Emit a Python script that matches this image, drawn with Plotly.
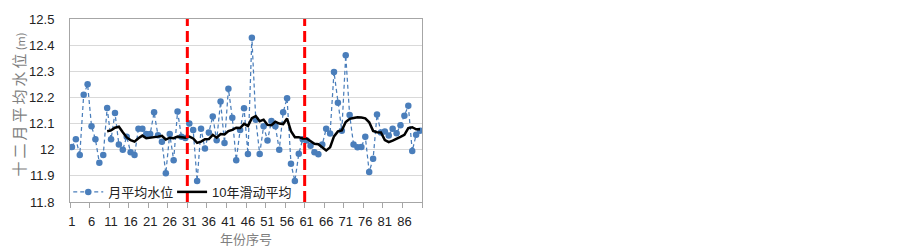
import plotly.graph_objects as go

# ---------------- data ----------------
years = list(range(1, 91))
monthly_level = [
    12.01, 12.04, 11.98, 12.21, 12.25, 12.09, 12.04, 11.95, 11.98, 12.16,
    12.04, 12.14, 12.02, 12.00, 12.05, 11.99, 11.98, 12.08, 12.08, 12.06,
    12.06, 12.143, 12.055, 12.03, 11.91, 12.06, 11.96, 12.146, 12.05, 12.045,
    12.10, 12.075, 11.88, 12.08, 12.005, 12.066, 12.127, 12.036, 12.184, 12.026,
    12.233, 12.122, 11.96, 12.075, 12.159, 11.984, 12.428, 12.115, 11.984, 12.09,
    12.035, 12.11, 12.09, 12.00, 12.143, 12.197, 11.946, 11.88, 11.985, 12.04,
    12.035, 12.015, 11.99, 11.983, 12.02, 12.08, 12.062, 12.297, 12.18, 12.073,
    12.361, 12.133, 12.02, 12.009, 12.01, 12.05, 11.915, 11.965, 12.135, 12.066,
    12.07, 12.054, 12.08, 12.063, 12.094, 12.13, 12.168, 11.995, 12.057, 12.073,
]
ma_years = list(range(10, 91))
moving_avg_10 = [
    12.071, 12.074, 12.084, 12.088, 12.067, 12.047, 12.037, 12.031, 12.044, 12.054,
    12.044, 12.046, 12.046, 12.050, 12.053, 12.039, 12.046, 12.044, 12.050, 12.047,
    12.046, 12.050, 12.043, 12.026, 12.031, 12.040, 12.041, 12.057, 12.046, 12.060,
    12.058, 12.071, 12.076, 12.084, 12.083, 12.099, 12.091, 12.121, 12.129, 12.109,
    12.115, 12.095, 12.094, 12.107, 12.100, 12.098, 12.119, 12.071, 12.048, 12.048,
    12.043, 12.043, 12.033, 12.023, 12.021, 12.009, 11.997, 12.009, 12.051, 12.070,
    12.074, 12.106, 12.118, 12.121, 12.124, 12.123, 12.120, 12.105, 12.072, 12.067,
    12.066, 12.037, 12.029, 12.035, 12.041, 12.049, 12.057, 12.083, 12.086, 12.078,
    12.078,
]
change_years = [31, 61]
x_tick_vals = list(range(1, 90, 5))
x_tick_text = [str(v) for v in x_tick_vals]
y_tick_vals = [11.8, 11.9, 12.0, 12.1, 12.2, 12.3, 12.4, 12.5]
y_tick_text = ["11.8", "11.9", "12", "12.1", "12.2", "12.3", "12.4", "12.5"]

series_names = ["月平均水位", "10年滑动平均"]
y_title = "\u2009".join("十二月平均水位") + " <span style='font-size:11px'>(m)</span>"
x_title = "年份序号"

FONT = "Liberation Sans, Arial, Noto Sans CJK SC, sans-serif"
BLUE = "#4a7ebb"

fig = go.Figure()
fig.add_trace(go.Scatter(
    x=years, y=monthly_level, name=series_names[0], mode="lines+markers",
    line=dict(color=BLUE, width=1.25, dash="4px,3px"),
    marker=dict(color=BLUE, size=6.5, line=dict(width=0)),
    legend="legend",
))
fig.add_trace(go.Scatter(
    x=ma_years, y=moving_avg_10, name=series_names[1], mode="lines",
    line=dict(color="#000000", width=2.5),
    legend="legend2",
))

for cy in change_years:
    fig.add_shape(type="line", xref="x", yref="paper", x0=cy - 0.5, x1=cy - 0.5,
                  y0=0, y1=1, line=dict(color="#ff0000", width=3, dash="11px,5px"),
                  layer="above")

legend_common = dict(orientation="h", xanchor="left", yanchor="middle",
                     bgcolor="rgba(0,0,0,0)", borderwidth=0,
                     font=dict(size=13, color="#222222", family=FONT),
                     itemwidth=30)

fig.update_layout(
    width=903, height=249,
    margin=dict(l=70, r=481, t=13, b=47, pad=0),
    paper_bgcolor="white", plot_bgcolor="white",
    font=dict(family=FONT, size=13, color="#222222"),
    showlegend=True,
    legend=dict(x=-0.005, y=0.055, **legend_common),
    legend2=dict(x=0.29, y=0.055, **legend_common),
    xaxis=dict(range=[0.5, 90.5], tickmode="array", tickvals=x_tick_vals,
               ticktext=x_tick_text, ticks="", showgrid=False, zeroline=False,
               showline=True, linecolor="#a6a6a6", linewidth=1, mirror=True,
               ticklabelstandoff=7,
               tickfont=dict(size=13, color="#222222"),
               minor=dict(tickmode="array", tickvals=[v - 0.5 for v in x_tick_vals] + [90.5],
                          ticks="outside", ticklen=5, tickcolor="#a6a6a6", tickwidth=1,
                          showgrid=False)),
    yaxis=dict(range=[11.8, 12.5], tickmode="array", tickvals=y_tick_vals,
               ticktext=y_tick_text, ticks="", showgrid=True, gridcolor="#d9d9d9",
               gridwidth=1, zeroline=False, showline=True, linecolor="#a6a6a6",
               linewidth=1, mirror=True, ticklabelstandoff=12,
               tickfont=dict(size=13, color="#222222")),
    annotations=[
        dict(text=y_title, xref="paper", yref="paper", x=-0.149, y=0.53,
             xanchor="center", yanchor="middle", textangle=-90, showarrow=False,
             font=dict(size=15, color="#7f7f7f", family="Noto Sans CJK SC, sans-serif")),
        dict(text=x_title, xref="paper", yref="paper", x=0.5, y=-0.20,
             xanchor="center", yanchor="middle", showarrow=False,
             font=dict(size=13, color="#7f7f7f", family="Noto Sans CJK SC, sans-serif")),
    ],
)

fig.write_html("out.html", config={"displayModeBar": False},
               post_script="document.body.style.margin='0';document.body.style.overflow='hidden';")
